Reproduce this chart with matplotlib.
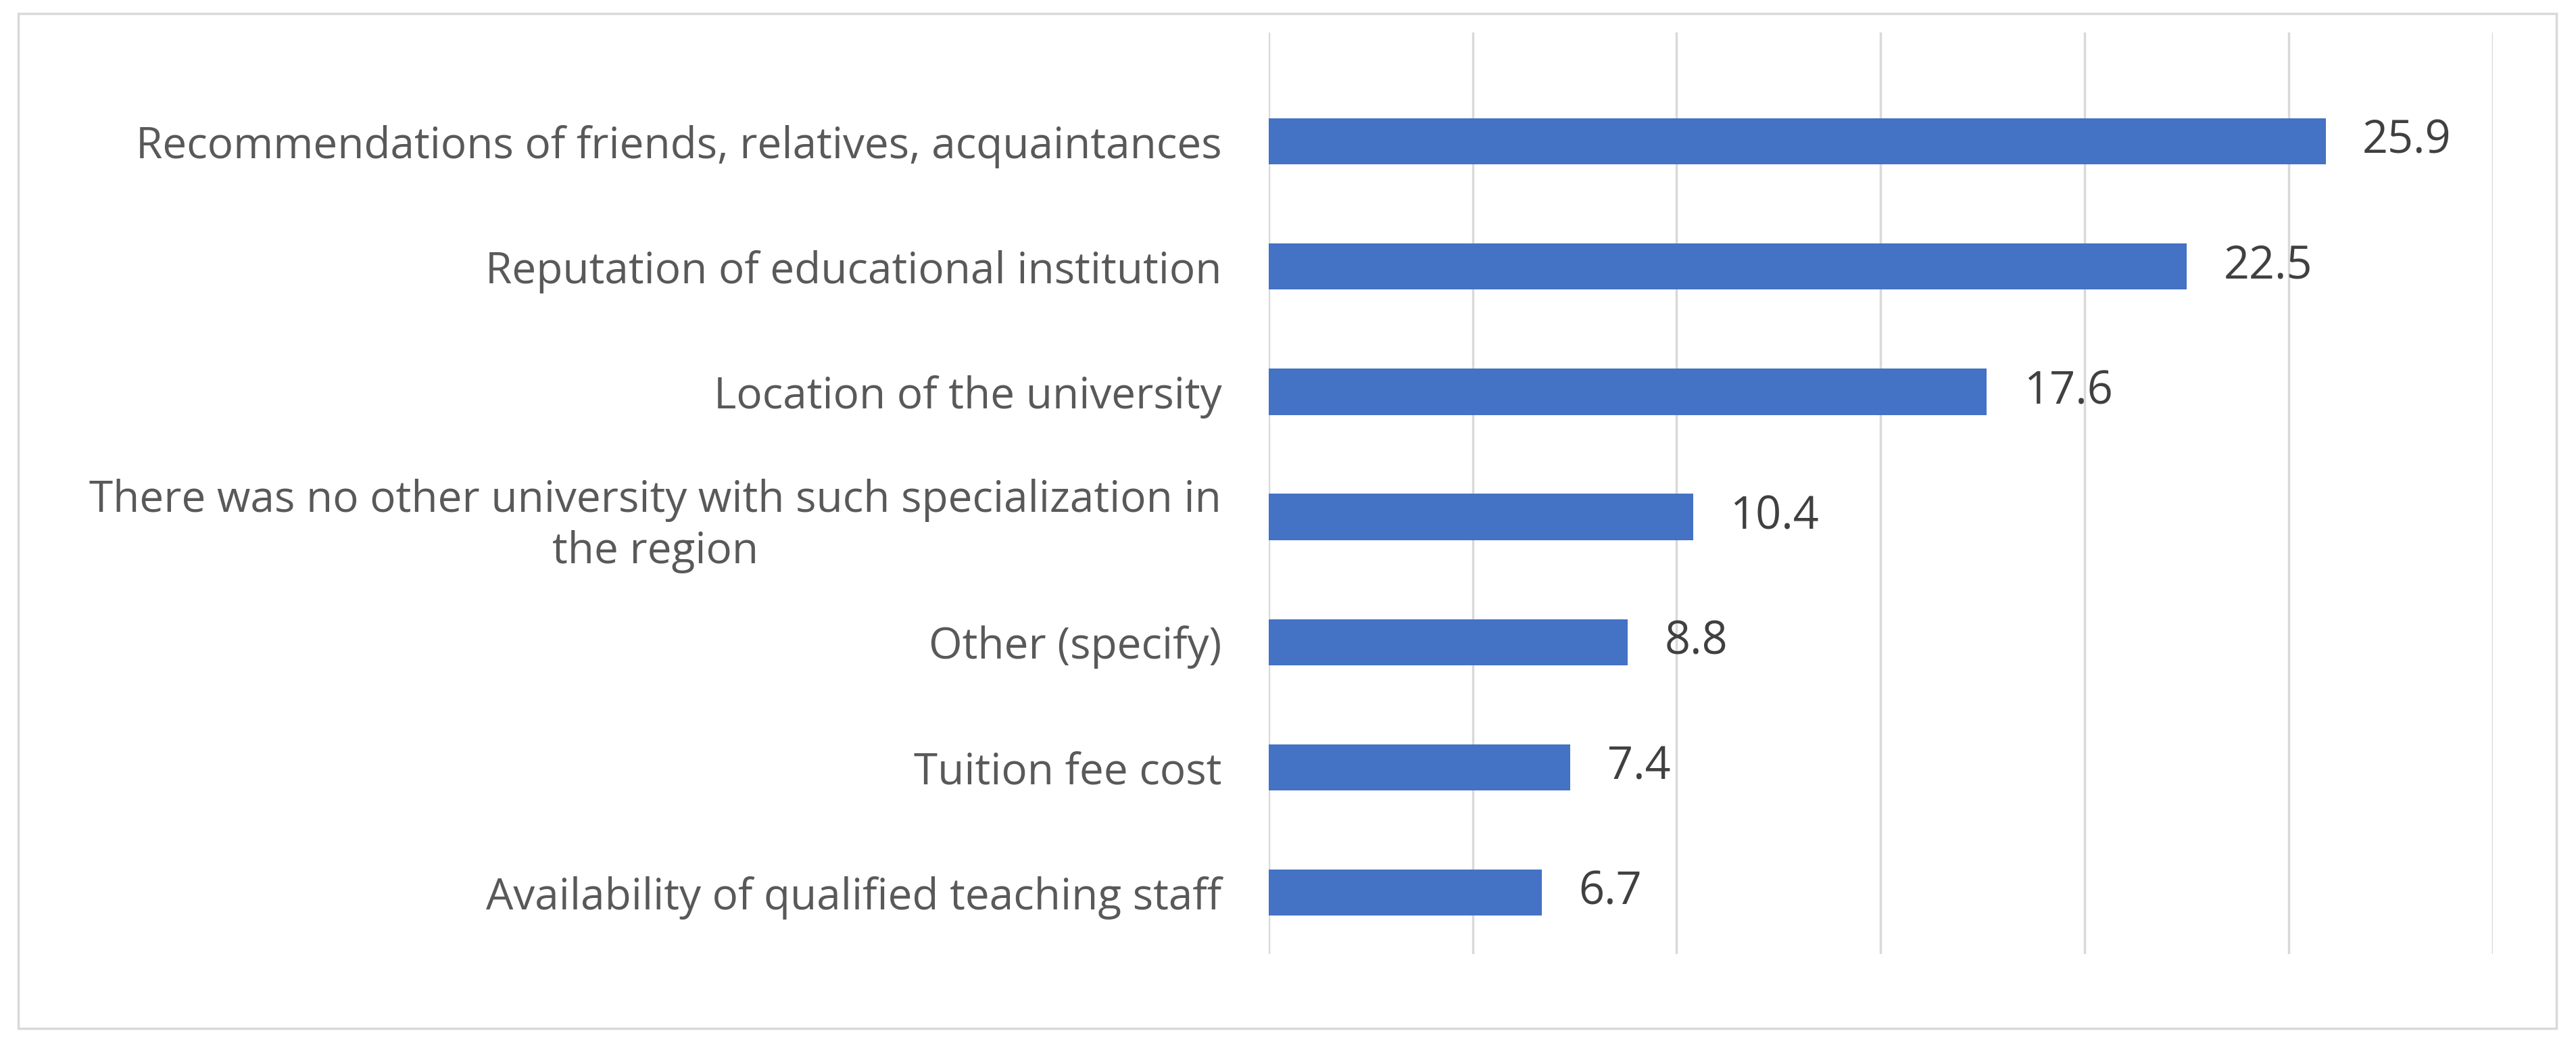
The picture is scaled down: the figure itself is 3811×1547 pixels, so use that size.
import matplotlib
matplotlib.use("Agg")
import matplotlib.pyplot as plt
from matplotlib.patches import Rectangle

categories = ["Recommendations of friends, relatives, acquaintances",
              "Reputation of educational institution",
              "Location of the university",
              "There was no other university with such specialization in\nthe region",
              "Other (specify)",
              "Tuition fee cost",
              "Availability of qualified teaching staff"]
values = [25.9, 22.5, 17.6, 10.4, 8.8, 7.4, 6.7]

plt.rcParams['font.family'] = ['Open Sans', 'DejaVu Sans']
fig = plt.figure(figsize=(38.12, 15.47), dpi=100)
fig.patches.append(Rectangle((0.007, 0.017), 0.985, 0.97, transform=fig.transFigure,
                             fill=False, edgecolor='#d9d9d9', linewidth=2.5))
ax = fig.add_axes([0.4923, 0.088, 0.4752, 0.881])
y = list(range(len(categories)))
ax.barh(y, values, height=0.37, color='#4472C4', zorder=3)
ax.set_xlim(0, 30)
ax.set_ylim(6.49, -0.87)
ax.set_xticks(range(0, 31, 5))
ax.xaxis.grid(True, color='#d9d9d9', linewidth=2.5, zorder=0)
ax.tick_params(axis='x', length=0, labelbottom=False)
ax.tick_params(axis='y', length=0, pad=50)
ax.set_yticks(y)
ax.set_yticklabels(categories, fontsize=46, color='#595959')
for t in ax.get_yticklabels():
    t.set_ha('right')
    t.set_multialignment('center')
    t.set_linespacing(1.25)
for s in ax.spines.values():
    s.set_visible(False)
for yi, v in zip(y, values):
    ax.text(v + 0.9, yi, f"{v}", va='center', ha='left', fontsize=48, color='#404040')
fig.savefig("out.png", dpi=100)
